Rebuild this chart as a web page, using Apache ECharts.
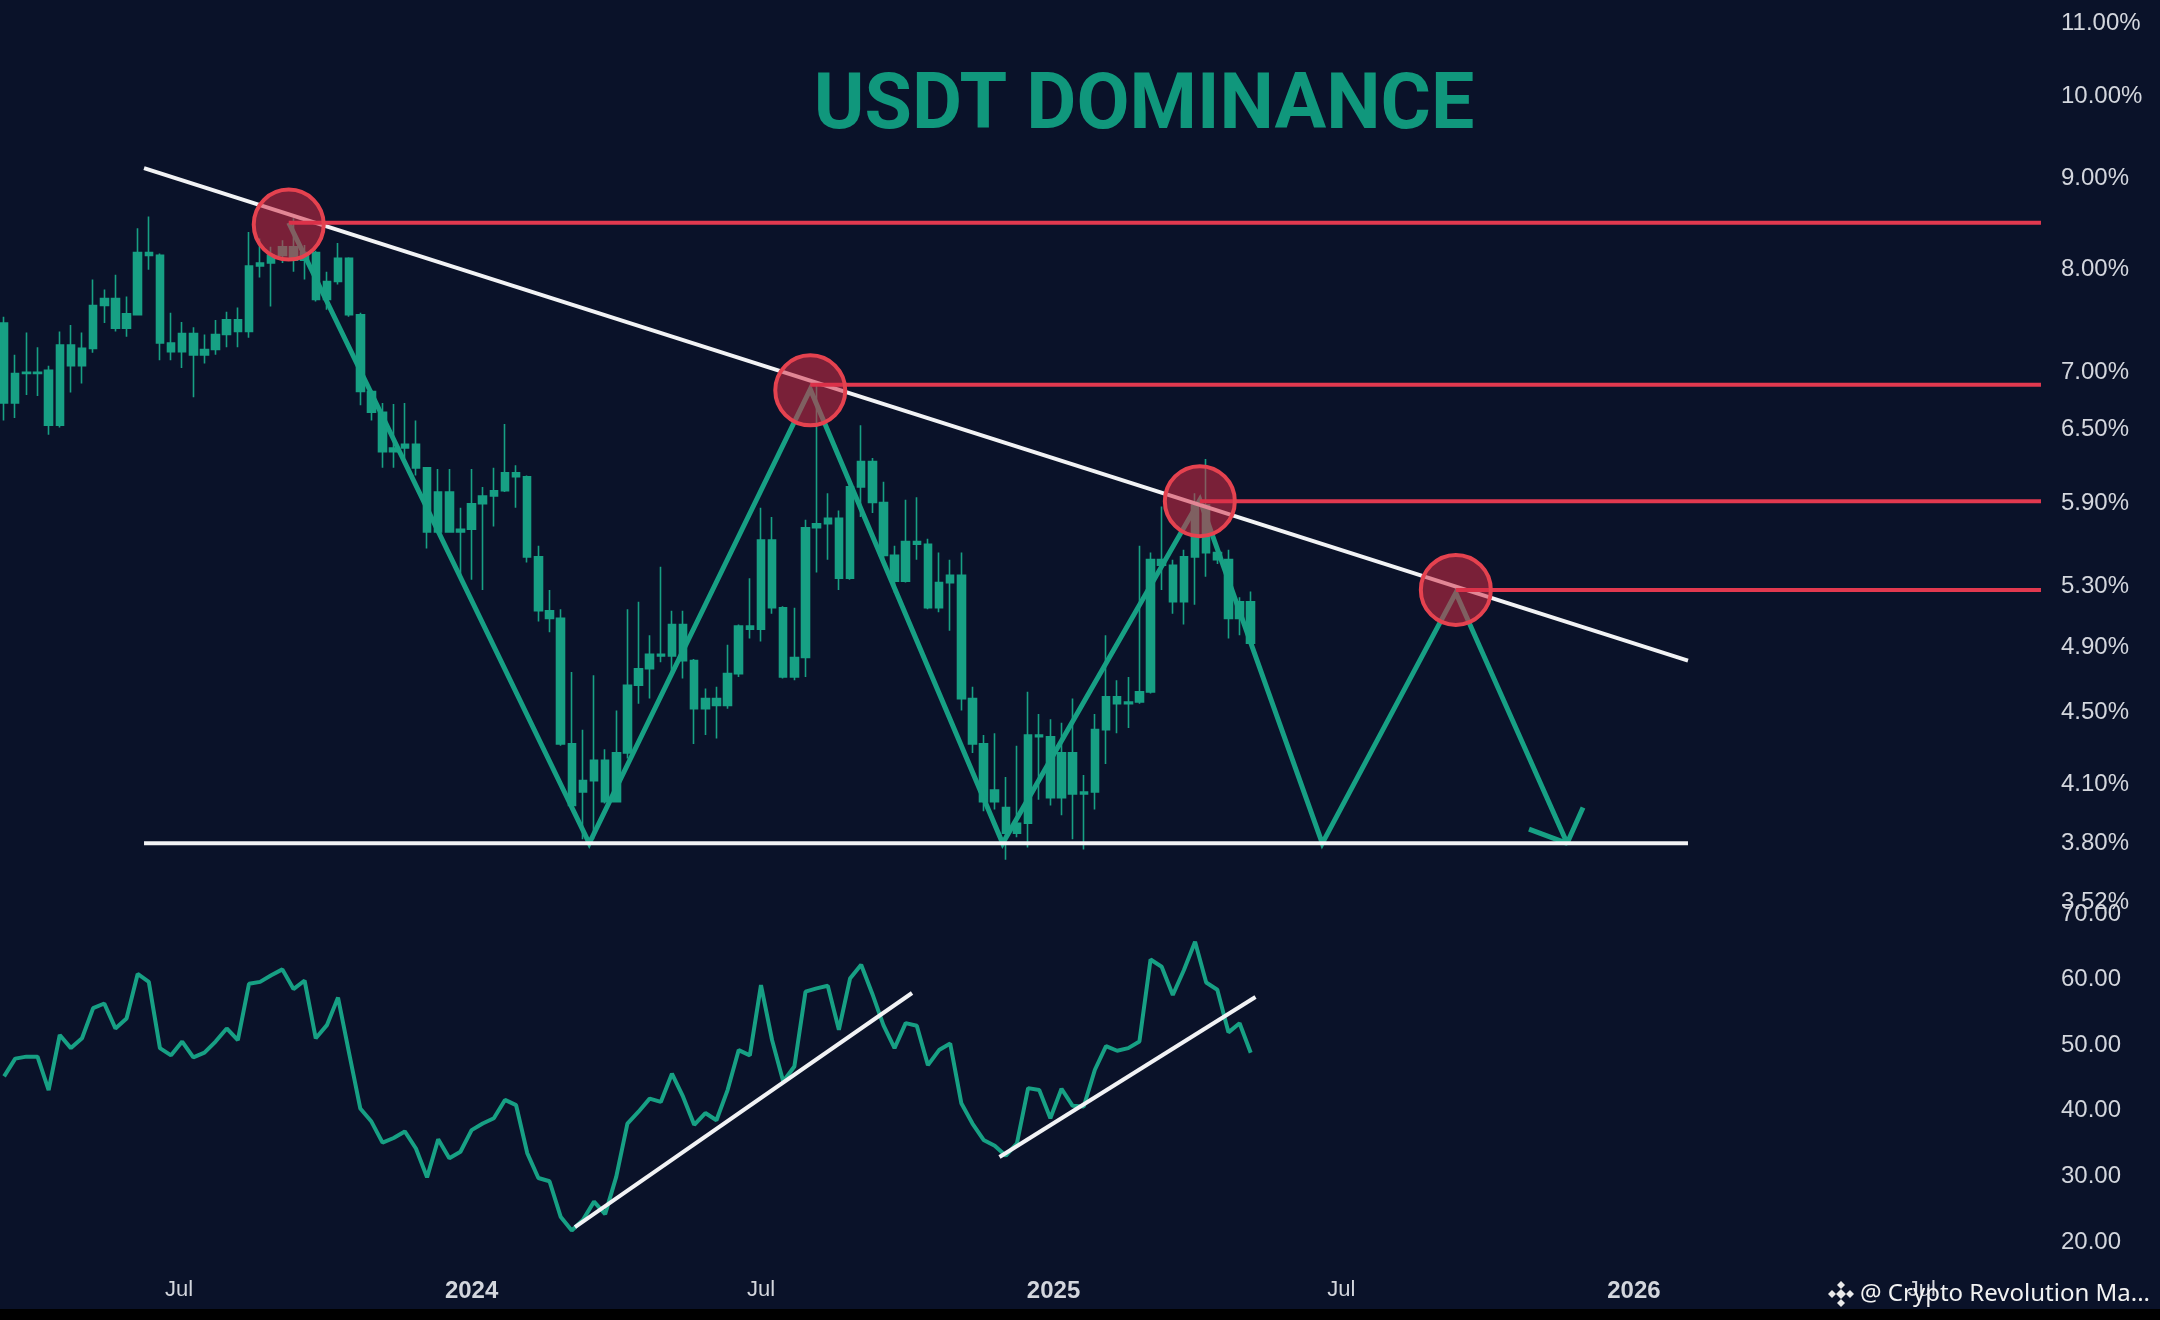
<!DOCTYPE html>
<html>
<head>
<meta charset="utf-8">
<script src="https://cdn.jsdelivr.net/npm/echarts@6/dist/echarts.min.js"></script>
<style>
html,body{margin:0;padding:0;background:#0a1229;}
#chart{width:2160px;height:1320px;}
</style>
</head>
<body>
<div id="chart"></div>
<script>
// ---------- data ----------
const candleStart = '2023-03-13'; // first weekly candle
// weekly candles [open, close, low, high] in %
const ohlc = [
[7.42,6.69,6.54,7.48],[6.69,6.95,6.56,7.12],[6.95,6.96,6.76,7.33],[6.96,6.95,6.75,7.19],[6.98,6.50,6.42,7.02],
[6.50,7.21,6.48,7.34],[7.21,7.02,6.78,7.40],[7.02,7.18,6.86,7.33],[7.18,7.59,7.14,7.85],[7.59,7.66,7.42,7.75],
[7.66,7.37,7.34,7.90],[7.37,7.51,7.29,7.68],[7.50,8.13,7.50,8.39],[8.13,8.10,7.95,8.52],[8.10,7.23,7.07,8.12],
[7.23,7.15,7.07,7.52],[7.15,7.32,7.00,7.43],[7.32,7.12,6.74,7.38],[7.12,7.17,7.04,7.31],[7.17,7.31,7.12,7.45],
[7.31,7.45,7.19,7.53],[7.45,7.34,7.19,7.57],[7.34,7.99,7.28,8.35],[7.99,8.02,7.87,8.28],[8.02,8.10,7.58,8.19],
[8.10,8.19,8.02,8.26],[8.19,8.05,7.93,8.50],[8.05,8.13,7.85,8.21],[8.13,7.65,7.63,8.15],[7.65,7.83,7.55,7.93],
[7.83,8.07,7.80,8.23],[8.07,7.50,7.48,8.08],[7.50,6.79,6.67,7.52],[6.79,6.61,6.54,6.80],[6.61,6.28,6.15,6.69],
[6.28,6.31,6.15,6.68],[6.31,6.34,6.23,6.69],[6.34,6.15,6.09,6.54],[6.15,5.66,5.54,6.15],[5.66,5.96,5.65,6.14],
[5.96,5.66,5.66,6.14],[5.66,5.68,5.33,5.84],[5.68,5.87,5.32,6.14],[5.87,5.93,5.25,6.00],[5.93,5.97,5.70,6.15],
[5.97,6.11,5.96,6.51],[6.11,6.08,5.84,6.17],[6.08,5.48,5.44,6.09],[5.48,5.11,5.04,5.56],[5.11,5.06,4.97,5.25],
[5.06,4.30,4.29,5.12],[4.30,3.97,3.96,4.72],[4.04,4.10,3.80,4.38],[4.10,4.21,3.80,4.70],[4.21,3.99,3.98,4.27],
[3.99,4.25,3.99,4.49],[4.25,4.64,4.22,5.12],[4.64,4.74,4.53,5.17],[4.74,4.83,4.56,4.95],[4.83,4.82,4.78,5.41],
[4.82,5.02,4.71,5.11],[5.02,4.79,4.68,5.11],[4.79,4.50,4.30,4.80],[4.50,4.56,4.35,4.62],[4.56,4.52,4.33,4.63],
[4.52,4.71,4.50,4.89],[4.71,5.01,4.69,5.02],[5.01,4.99,4.93,5.33],[4.99,5.60,4.91,5.84],[5.60,5.13,5.09,5.77],
[5.13,4.69,4.68,5.14],[4.69,4.81,4.67,5.13],[4.81,5.69,4.69,5.75],[5.69,5.72,5.37,6.84],[5.72,5.76,5.46,5.95],
[5.76,5.33,5.25,5.82],[5.33,6.00,5.32,6.03],[6.00,6.20,5.77,6.50],[6.20,5.88,5.80,6.23],[5.88,5.49,5.46,6.04],
[5.49,5.31,5.23,5.56],[5.31,5.59,5.30,5.90],[5.59,5.57,5.46,5.92],[5.57,5.13,5.12,5.61],[5.13,5.30,5.10,5.51],
[5.30,5.35,4.98,5.46],[5.35,4.56,4.49,5.51],[4.56,4.30,4.25,4.63],[4.30,3.99,3.94,4.35],[3.99,4.05,3.95,4.36],
[3.96,3.83,3.70,4.12],[3.83,3.88,3.81,4.29],[3.88,4.35,3.76,4.60],[4.35,4.34,4.00,4.47],[4.34,4.01,3.97,4.44],
[4.01,4.25,3.92,4.42],[4.25,4.03,3.80,4.56],[4.03,4.04,3.75,4.13],[4.04,4.38,3.95,4.47],[4.38,4.57,4.19,4.95],
[4.57,4.53,4.36,4.67],[4.53,4.54,4.39,4.69],[4.54,4.60,4.53,5.56],[4.60,5.46,4.59,5.51],[5.46,5.42,5.25,5.85],
[5.42,5.17,5.09,5.46],[5.17,5.48,5.02,5.53],[5.48,5.86,5.15,5.95],[5.86,5.51,5.34,6.22],[5.51,5.46,5.43,5.53],
[5.46,5.06,4.93,5.53],[5.06,5.17,4.95,5.20],[5.17,4.90,4.89,5.24]
];
// weekly oscillator values (lower panel)
const rsi = [
44.8,47.5,47.8,47.8,42.7,51.1,49.1,50.6,55.2,55.9,52.1,53.6,60.4,59.2,49.1,48.0,50.1,47.7,48.4,50.1,
52.1,50.3,58.9,59.2,60.2,61.1,58.1,59.4,50.6,52.6,56.8,48.3,39.9,37.9,34.7,35.4,36.4,33.8,29.4,35.2,
32.3,33.3,36.6,37.6,38.4,41.2,40.4,33.1,29.3,28.8,23.4,21.3,22.9,25.7,23.8,29.5,
37.6,39.4,41.4,40.9,45.2,41.7,37.4,39.2,38.1,42.7,48.8,48.0,58.7,50.3,44.0,46.3,57.7,58.2,58.6,51.9,
59.7,61.8,57.4,52.6,49.1,52.9,52.5,46.5,48.8,49.8,40.7,37.6,35.1,34.2,32.7,34.6,43.0,42.7,38.4,42.9,
40.3,40.2,45.8,49.4,48.7,49.1,50.1,62.6,61.5,57.2,61.0,65.3,59.1,58.0,51.5,52.9,48.4
];
const priceTicks = [11, 10, 9, 8, 7, 6.5, 5.9, 5.3, 4.9, 4.5, 4.1, 3.8, 3.52];
const rsiTicks = [20, 30, 40, 50, 60, 70];
const timeTicks = ['2023-07-01','2024-01-01','2024-07-01','2025-01-01','2025-07-01','2026-01-01','2026-07-01'];
const timeMin = '2023-03-10T10:00:00Z';
const timeMax = '2026-09-18T10:00:00Z';

const trendLine = [['2023-06-09', 9.07], ['2026-02-04', 4.79]];
const supportLine = [['2023-06-09', 3.78], ['2026-02-04', 3.78]];
const resistanceStarts = ['2023-09-08', '2024-08-01', '2025-04-03', '2025-09-11'];
const resistanceValues = [8.45, 6.85, 5.89, 5.25];
const resistanceEnd = '2026-09-14';
const touchPoints = [['2023-09-08', 8.43], ['2024-08-01', 6.80], ['2025-04-03', 5.89], ['2025-09-11', 5.25]];
const zigzag = [['2023-09-08', 8.45], ['2024-03-15', 3.78], ['2024-08-01', 6.81], ['2024-11-30', 3.78],
                ['2025-04-03', 5.90], ['2025-06-19', 3.78], ['2025-09-11', 5.23], ['2025-11-20', 3.78]];
const arrowHead = [['2025-10-27', 3.85], ['2025-11-20', 3.78], ['2025-11-30', 3.96]];
const rsiTrend1 = [['2024-03-06', 21.8], ['2024-10-04', 57.5]];
const rsiTrend2 = [['2024-11-28', 32.5], ['2025-05-08', 56.9]];

// ---------- build ----------
const DAY = 86400000;
const ts = s => Date.parse(s.length <= 10 ? s + 'T00:00:00Z' : s);
const weekTs = ohlc.map((_, i) => ts(candleStart) + 7 * i * DAY);
const L = Math.log;
const toLog = arr => arr.map(p => [ts(p[0]), L(p[1])]);
const toLin = arr => arr.map(p => [ts(p[0]), p[1]]);

const TEAL = '#17a084';
const RED = '#e2394f';
const WHITE = '#f2f3f5';
const LABEL = '#d3d6dd';
const FONT = 'Liberation Sans, Arial, sans-serif';

const chart = echarts.init(document.getElementById('chart'), null, {renderer: 'canvas'});

const series = [];
series.push({
  type: 'candlestick', xAxisIndex: 0, yAxisIndex: 0, z: 2,
  barWidth: 8,
  data: weekTs.map((t, i) => [t, L(ohlc[i][0]), L(ohlc[i][1]), L(ohlc[i][2]), L(ohlc[i][3])]),
  itemStyle: {color: TEAL, color0: TEAL, borderColor: TEAL, borderColor0: TEAL, borderWidth: 1.6}
});
series.push({type: 'line', xAxisIndex: 0, yAxisIndex: 0, z: 3, symbol: 'none', data: toLog(zigzag),
  lineStyle: {color: TEAL, width: 5, join: 'miter'}});
series.push({type: 'line', xAxisIndex: 0, yAxisIndex: 0, z: 3, symbol: 'none', data: toLog(arrowHead),
  lineStyle: {color: TEAL, width: 5}});
series.push({type: 'line', xAxisIndex: 0, yAxisIndex: 0, z: 4, symbol: 'none', data: toLog(trendLine),
  lineStyle: {color: WHITE, width: 4}});
series.push({type: 'line', xAxisIndex: 0, yAxisIndex: 0, z: 4, symbol: 'none', data: toLog(supportLine),
  lineStyle: {color: WHITE, width: 4}});
resistanceStarts.forEach((s, k) => {
  series.push({type: 'line', xAxisIndex: 0, yAxisIndex: 0, z: 4, symbol: 'none',
    data: [[ts(s), L(resistanceValues[k])], [ts(resistanceEnd), L(resistanceValues[k])]],
    lineStyle: {color: RED, width: 4}});
});
series.push({type: 'scatter', xAxisIndex: 0, yAxisIndex: 0, z: 6, symbolSize: 70, data: toLog(touchPoints),
  itemStyle: {color: 'rgba(214,44,70,0.55)', borderColor: '#e5424f', borderWidth: 4, opacity: 1}});
series.push({type: 'line', xAxisIndex: 1, yAxisIndex: 1, z: 3, symbol: 'none',
  data: weekTs.map((t, i) => [t, rsi[i]]), lineStyle: {color: TEAL, width: 4}});
series.push({type: 'line', xAxisIndex: 1, yAxisIndex: 1, z: 4, symbol: 'none', data: toLin(rsiTrend1),
  lineStyle: {color: WHITE, width: 4}});
series.push({type: 'line', xAxisIndex: 1, yAxisIndex: 1, z: 4, symbol: 'none', data: toLin(rsiTrend2),
  lineStyle: {color: WHITE, width: 4}});

const richLabel = {a: {color: LABEL, fontSize: 24, fontFamily: FONT, padding: [8, 0, 0, 0]}};

const option = {
  backgroundColor: '#0a1229',
  animation: false,
  grid: [
    {left: 0, right: 112, top: 19.3, height: 879},
    {left: 0, right: 112, top: 911, height: 328}
  ],
  xAxis: [
    {type: 'value', gridIndex: 0, min: ts(timeMin), max: ts(timeMax), show: false, scale: true,
      splitLine: {show: false}},
    {type: 'value', gridIndex: 1, min: ts(timeMin), max: ts(timeMax), scale: true,
      axisLine: {show: false}, axisTick: {show: false}, splitLine: {show: false},
      axisLabel: {
        color: LABEL, fontFamily: FONT, fontSize: 22, margin: 40,
        customValues: timeTicks.map(ts), hideOverlap: false,
        formatter: function (v) {
          const d = new Date(v);
          return d.getUTCMonth() === 0 ? '{y|' + d.getUTCFullYear() + '}' : 'Jul';
        },
        rich: {y: {fontWeight: 'bold', fontSize: 24, color: LABEL, fontFamily: FONT}}
      }}
  ],
  yAxis: [
    {type: 'value', gridIndex: 0, position: 'right', min: L(3.52), max: L(11), scale: true,
      axisLine: {show: false}, axisTick: {show: false}, splitLine: {show: false},
      axisLabel: {
        color: LABEL, fontSize: 24, fontFamily: FONT,
        margin: 13, customValues: priceTicks.map(L), rich: richLabel,
        formatter: function (v) {
          let best = priceTicks[0];
          priceTicks.forEach(t => { if (Math.abs(L(t) - v) < Math.abs(L(best) - v)) best = t; });
          return '{a|' + best.toFixed(2) + '%}';
        }
      }},
    {type: 'value', gridIndex: 1, position: 'right', min: 20, max: 70, interval: 10,
      axisLine: {show: false}, axisTick: {show: false}, splitLine: {show: false},
      axisLabel: {color: LABEL, fontSize: 24, fontFamily: FONT, margin: 13, customValues: rsiTicks,
        rich: {a: {color: LABEL, fontSize: 24, fontFamily: FONT, padding: [6, 0, 0, 0]}},
        formatter: v => '{a|' + Number(v).toFixed(2) + '}'}}
  ],
  graphic: [
    {type: 'text', x: 1144, y: 109, z: 10,
      style: {text: 'USDT DOMINANCE', fill: '#10977c', fontSize: 77, fontWeight: 'bold',
        fontFamily: 'Roboto, sans-serif', align: 'center', verticalAlign: 'middle'}},
    {type: 'rect', shape: {x: 0, y: 1309, width: 2160, height: 11}, style: {fill: '#000000'}, z: 10},
    {type: 'polygon', shape: {points: [[1841,1289],[1846,1294],[1841,1299],[1836,1294]]}, style: {fill: '#e9e9ea'}, z: 11},
    {type: 'polygon', shape: {points: [[1841,1281],[1845,1285],[1841,1289],[1837,1285]]}, style: {fill: '#e9e9ea'}, z: 11},
    {type: 'polygon', shape: {points: [[1841,1299],[1845,1303],[1841,1307],[1837,1303]]}, style: {fill: '#e9e9ea'}, z: 11},
    {type: 'polygon', shape: {points: [[1832,1290],[1836,1294],[1832,1298],[1828,1294]]}, style: {fill: '#e9e9ea'}, z: 11},
    {type: 'polygon', shape: {points: [[1850,1290],[1854,1294],[1850,1298],[1846,1294]]}, style: {fill: '#e9e9ea'}, z: 11},
    {type: 'text', x: 1860, y: 1294, z: 11,
      style: {text: '@ Crypto Revolution Ma...', fill: '#f2f2f2', fontSize: 24,
        fontFamily: 'Noto Sans, Open Sans, sans-serif', align: 'left', verticalAlign: 'middle'}}
  ],
  series: series
};
chart.setOption(option);
</script>
</body>
</html>
